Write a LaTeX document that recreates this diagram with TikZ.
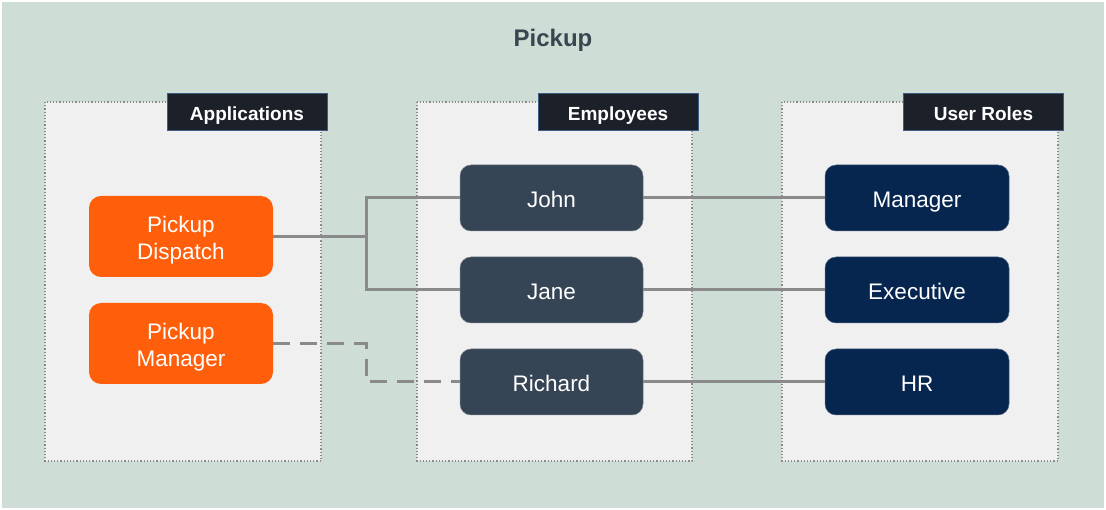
\documentclass[tikz,border=0pt]{standalone}
\usepackage{fontspec}
\setmainfont{Liberation Sans}
\definecolor{bgout}{HTML}{CEDED6}
\definecolor{panelbg}{HTML}{F0F0F0}
\definecolor{hdrbg}{HTML}{1C2028}
\definecolor{hdredge}{HTML}{3A5C85}
\definecolor{orangebox}{HTML}{FF5F0A}
\definecolor{empbox}{HTML}{364555}
\definecolor{rolebox}{HTML}{06264F}
\definecolor{conn}{HTML}{8A8A8A}
\definecolor{titlec}{HTML}{37474F}
\newcommand{\twoline}[2]{\raisebox{-9.5pt}[0pt][0pt]{\begin{tabular}{@{}c@{}}#1\\#2\end{tabular}}}
\begin{document}
\begin{tikzpicture}[x=1pt,y=-1pt,
  panel/.style={draw=conn,dotted,line width=1.2pt,fill=panelbg},
  hdr/.style={draw=hdredge,line width=1pt,fill=hdrbg,text=white,font=\fontsize{19}{22}\selectfont\bfseries,minimum width=160pt,minimum height=37pt,inner sep=0pt,text height=19.5pt,text depth=4pt},
  appbox/.style={fill=orangebox,rounded corners=12pt,text=white,font=\fontsize{22.5}{27}\selectfont,minimum width=184pt,minimum height=81pt,inner sep=0pt},
  empnode/.style={fill=empbox,draw=empbox!70!white,line width=0.5pt,rounded corners=11pt,text=white,font=\fontsize{22.5}{26}\selectfont,minimum width=183pt,minimum height=66pt,inner sep=0pt,text height=24pt,text depth=4.5pt},
  rolenode/.style={fill=rolebox,draw=rolebox!70!white,line width=0.5pt,rounded corners=11pt,text=white,font=\fontsize{22.5}{26}\selectfont,minimum width=184pt,minimum height=66pt,inner sep=0pt,text height=24pt,text depth=4.5pt},
  link/.style={draw=conn,line width=3pt},
  dlink/.style={draw=conn,line width=3pt,dash pattern=on 17pt off 10pt}]
\fill[white] (0,0) rectangle (1106,510);
\useasboundingbox (0,0) rectangle (1106,510);
\fill[bgout] (2,2) rectangle (1104,508);
\node[font=\fontsize{24}{28}\selectfont\bfseries,text=titlec,text height=23pt,text depth=5pt,inner sep=0pt] (title) at (553,38) {Pickup};
% panels
\draw[panel] (45,102) rectangle (321,461);
\draw[panel] (417,102) rectangle (692,461);
\draw[panel] (782,102) rectangle (1058,461);
\node[hdr] (happ) at (247,112.5) {Applications};
\node[hdr] (hemp) at (618,112.5) {Employees};
\node[hdr] (hrole) at (983.5,112.5) {User Roles};
% app boxes
\node[appbox] (disp) at (181,236.5) {\twoline{Pickup}{Dispatch}};
\node[appbox] (pmgr) at (181,343.5) {\twoline{Pickup}{Manager}};
% employees
\node[empnode] (john) at (551.5,198) {John};
\node[empnode] (jane) at (551.5,290) {Jane};
\node[empnode] (rich) at (551.5,382) {Richard};
% roles
\node[rolenode] (mgr) at (917,198) {Manager};
\node[rolenode] (exec) at (917,290) {Executive};
\node[rolenode] (hr) at (917,382) {HR};
% connectors
\coordinate (jx) at (366,237);
\draw[link] (disp.east |- jx) -- (jx);
\draw[link] (jx) |- (john.west);
\draw[link] (jx) |- (jane.west);
\draw[dlink] (pmgr.east) -- (366,343.5) |- (rich.west);
\draw[link] (john.east) -- (mgr.west);
\draw[link] (jane.east) -- (exec.west);
\draw[link] (rich.east) -- (hr.west);
\end{tikzpicture}
\end{document}
